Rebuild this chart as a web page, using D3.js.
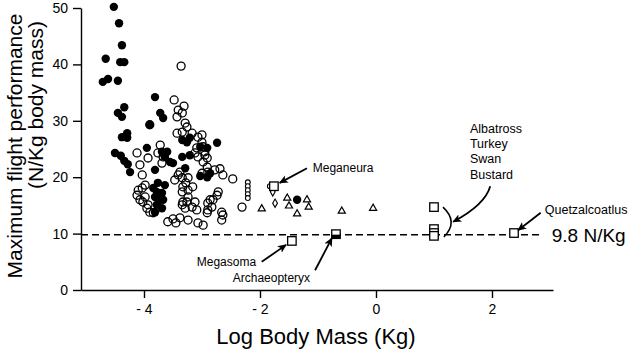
<!DOCTYPE html>
<html><head><meta charset="utf-8">
<script src="https://cdn.jsdelivr.net/npm/d3@7"></script>
<style>body{margin:0;background:#fff}svg{display:block}</style>
</head><body><svg id="c" width="640" height="360"></svg>
<script>
// ---- data (log10 body mass in kg, max flight performance in N/kg) ----
const filledMass = [-4.52,-4.43,-4.38,-4.66,-4.41,-4.34,-4.71,-4.62,-4.45,-3.81,-4.34,-4.45,-4.38,-3.72,-3.67,-4.38,-4.29,-4.29,-3.95,-4.50,-4.40,-4.34,-4.28,-4.24,-3.81,-3.69,-3.60,-3.64,-3.55,-3.50,-3.34,-3.26,-3.21,-3.34,-3.21,-3.03,-2.91,-2.74,-3.29,-3.03,-2.91,-2.86,-3.84,-3.78,-3.69,-3.81,-3.72,-3.78,-3.69,-1.36,-3.90,-3.76,-3.81,-3.64,-3.67];
const filledPerf = [50.2,47.3,43.4,41.0,40.4,40.4,36.9,37.4,37.1,34.2,32.4,31.4,30.7,31.4,30.5,27.1,27.8,27.0,25.2,24.3,23.8,22.9,22.3,20.9,21.3,24.5,24.5,23.6,22.7,22.5,26.6,26.2,27.0,23.6,23.9,25.4,25.2,26.1,21.6,20.2,20.0,20.7,18.1,17.4,17.2,16.5,16.0,15.1,14.5,16.0,29.3,19.0,13.8,18.6,16.0];

const openMass = [-3.36,-3.48,-3.31,-3.41,-3.34,-3.43,-3.29,-3.26,-3.34,-3.43,-3.17,-3.07,-3.00,-2.98,-2.95,-3.09,-3.72,-3.76,-3.67,-3.12,-3.07,-2.91,-2.98,-3.90,-4.12,-3.93,-4.07,-4.03,-3.69,-3.38,-3.41,-3.34,-3.47,-3.24,-2.91,-3.00,-2.78,-2.64,-2.69,-2.47,-3.00,-3.98,-4.03,-4.10,-4.12,-4.07,-3.98,-4.02,-3.93,-3.95,-3.90,-3.84,-3.33,-3.34,-3.24,-3.16,-3.24,-3.26,-3.12,-3.09,-3.17,-3.34,-3.29,-2.90,-2.81,-2.74,-2.72,-2.83,-2.66,-2.64,-2.66,-3.59,-3.50,-3.45,-3.38,-3.24,-3.07,-2.98,-2.86,-2.90,-2.31,-2.95,-2.90,-3.28,-3.33,-2.91];
const openPerf = [39.7,33.7,32.6,31.9,31.4,30.7,29.6,28.9,28.0,27.8,27.8,27.1,26.2,25.4,24.5,25.2,25.7,24.3,23.6,24.3,23.6,23.4,22.7,29.3,24.3,23.4,22.2,20.4,22.5,20.9,20.4,19.9,19.5,19.9,21.8,20.7,21.3,20.4,21.5,19.7,27.5,18.6,18.1,17.7,16.8,16.0,16.5,15.6,15.1,14.5,13.8,13.7,18.3,17.4,17.7,18.3,16.5,15.6,15.6,14.2,14.7,15.1,14.5,15.4,16.0,16.8,17.4,14.7,13.8,13.3,12.4,12.1,12.6,11.9,12.8,12.4,11.9,11.5,16.0,14.2,14.7,23.9,20.9,19.0,15.6,13.7];

const smallMass = [-2.21,-2.21,-2.21,-2.21,-2.21,-1.83];
const smallPerf = [19.1,18.4,17.7,17.0,16.3,18.4];

const diamondMass = [-1.78,-1.74];
const diamondPerf = [17.4,15.4];

const triMass = [-1.97,-1.53,-1.50,-1.36,-1.19,-1.16,-0.59,-0.05];
const triPerf = [14.4,16.3,14.9,13.5,16.0,14.7,14.0,14.5];

const squareNames = ["Meganeura","Megasoma","Archaeopteryx","Albatross","Turkey","Swan","Bustard","Quetzalcoatlus"];
const squareMass = [-1.76,-1.45,-0.69,1.0,1.0,1.0,1.0,2.38];
const squarePerf = [18.4,8.7,9.9,14.7,10.8,10.1,9.6,10.1];

const xTickValues = [-4,-2,0,2];
const xTickLabels = ["- 4","- 2","0","2"];
const yTickValues = [0,10,20,30,40,50];
const threshold = 9.8;
const thresholdLabel = "9.8 N/Kg";

// ---- drawing ----
const svg = d3.select("#c");
const font = "'Liberation Sans', Arial, Helvetica, sans-serif";
const x = d3.scaleLinear().domain([-5.086, 3.052]).range([81, 553]);
const y = d3.scaleLinear().domain([0, 50]).range([290, 8]);

svg.append("defs").append("marker")
  .attr("id","ah").attr("viewBox","0 0 10 10").attr("refX",9).attr("refY",5)
  .attr("markerWidth",9).attr("markerHeight",9).attr("markerUnits","userSpaceOnUse")
  .attr("orient","auto")
  .append("path").attr("d","M0,0.5 L10,5 L0,9.5 L2.5,5 Z").attr("fill","#000");

// axes
const gx = svg.append("g").attr("transform","translate(0,290)")
  .call(d3.axisBottom(x).tickValues(xTickValues).tickFormat((d,i)=>xTickLabels[i])
    .tickSize(8).tickSizeOuter(0).tickPadding(6));
const gy = svg.append("g").attr("transform","translate(81,0)")
  .call(d3.axisLeft(y).tickValues(yTickValues).tickSize(8).tickSizeOuter(0).tickPadding(5));
[gx, gy].forEach(g => {
  g.selectAll("path,line").attr("stroke","#000").attr("stroke-width",1.4);
  g.selectAll("text").attr("font-family",font).attr("font-size",14).attr("fill","#000");
});

// axis titles
svg.append("text").attr("x",316).attr("y",344).attr("text-anchor","middle")
  .attr("font-family",font).attr("font-size",22).text("Log Body Mass (Kg)");
svg.append("text").attr("transform","translate(22,146) rotate(-90)").attr("text-anchor","middle")
  .attr("font-family",font).attr("font-size",21).text("Maximum flight performance");
svg.append("text").attr("transform","translate(43,105) rotate(-90)").attr("text-anchor","middle")
  .attr("font-family",font).attr("font-size",21).text("(N/Kg body mass)");

// threshold dashed line
svg.append("line").attr("x1",x.range()[0]).attr("x2",x(2.86))
  .attr("y1",y(threshold)).attr("y2",y(threshold))
  .attr("stroke","#000").attr("stroke-width",1.5).attr("stroke-dasharray","7,4");
svg.append("text").attr("x",x(3.03)).attr("y",y(8.5)).attr("font-family",font)
  .attr("font-size",19).text(thresholdLabel);

// filled circles
svg.append("g").selectAll("circle").data(d3.range(filledMass.length)).join("circle")
  .attr("cx",i=>x(filledMass[i])).attr("cy",i=>y(filledPerf[i])).attr("r",4.2).attr("fill","#000");
// open circles
svg.append("g").selectAll("circle").data(d3.range(openMass.length)).join("circle")
  .attr("cx",i=>x(openMass[i])).attr("cy",i=>y(openPerf[i])).attr("r",4)
  .attr("fill","none").attr("stroke","#000").attr("stroke-width",1.3);
// small open circles
svg.append("g").selectAll("circle").data(d3.range(smallMass.length)).join("circle")
  .attr("cx",i=>x(smallMass[i])).attr("cy",i=>y(smallPerf[i])).attr("r",2.4)
  .attr("fill","#fff").attr("stroke","#000").attr("stroke-width",1.1);
// diamonds
const dsym = d3.symbol().type(d3.symbolDiamond).size(20);
svg.append("g").selectAll("path").data(d3.range(diamondMass.length)).join("path")
  .attr("transform",i=>`translate(${x(diamondMass[i])},${y(diamondPerf[i])})`).attr("d",dsym)
  .attr("fill","#fff").attr("stroke","#000").attr("stroke-width",1.1);
// triangles
const tsym = d3.symbol().type(d3.symbolTriangle).size(22);
svg.append("g").selectAll("path").data(d3.range(triMass.length)).join("path")
  .attr("transform",i=>`translate(${x(triMass[i])},${y(triPerf[i])})`).attr("d",tsym)
  .attr("fill","#fff").attr("stroke","#000").attr("stroke-width",1.2);
// squares
const sq = 8.5;
const gs = svg.append("g");
gs.selectAll("rect.sq").data(d3.range(squareMass.length)).join("rect").attr("class","sq")
  .attr("x",i=>x(squareMass[i])-sq/2).attr("y",i=>y(squarePerf[i])-sq/2)
  .attr("width",sq).attr("height",sq).attr("fill","#fff").attr("stroke","#000").attr("stroke-width",1.3);
// Archaeopteryx square partly filled
const ai = squareNames.indexOf("Archaeopteryx");
gs.append("rect").attr("x",x(squareMass[ai])-sq/2).attr("y",y(squarePerf[ai])+0.5)
  .attr("width",sq).attr("height",sq/2-0.5).attr("fill","#000");

// annotations (positions in data units)
const ann = svg.append("g").attr("font-family",font).attr("fill","#000");
function label(t, mx, py, size){ ann.append("text").attr("x",x(mx)).attr("y",y(py)).attr("font-size",size).text(t); }
function arrow(m1,p1,m2,p2){
  svg.append("line").attr("x1",x(m1)).attr("y1",y(p1)).attr("x2",x(m2)).attr("y2",y(p2))
    .attr("stroke","#000").attr("stroke-width",1.8).attr("marker-end","url(#ah)");
}
label("Meganeura", -1.09, 20.9, 12);
arrow(-1.19, 21.6, -1.66, 19.0);
label("Albatross", 1.62, 27.8, 12.5);
label("Turkey", 1.62, 25.2, 12.5);
label("Swan", 1.62, 22.5, 12.5);
label("Bustard", 1.62, 19.7, 12.5);
svg.append("path")
  .attr("d",`M${x(1.97)},${y(18.4)} Q${x(1.88)},${y(15.1)} ${x(1.33)},${y(12.1)}`)
  .attr("fill","none").attr("stroke","#000").attr("stroke-width",1.8).attr("marker-end","url(#ah)");
svg.append("path")
  .attr("d",`M${x(1.155)},${y(14.7)} Q${x(1.43)},${y(12.1)} ${x(1.17)},${y(9.4)}`)
  .attr("fill","none").attr("stroke","#000").attr("stroke-width",1.6);
label("Quetzalcoatlus", 2.91, 13.5, 12.5);
arrow(2.84, 13.7, 2.45, 10.6);
label("Megasoma", -3.09, 4.26, 12);
arrow(-1.97, 5.0, -1.55, 8.0);
label("Archaeopteryx", -2.47, 1.42, 12);
arrow(-1.05, 3.5, -0.76, 9.2);
</script>
</body></html>
